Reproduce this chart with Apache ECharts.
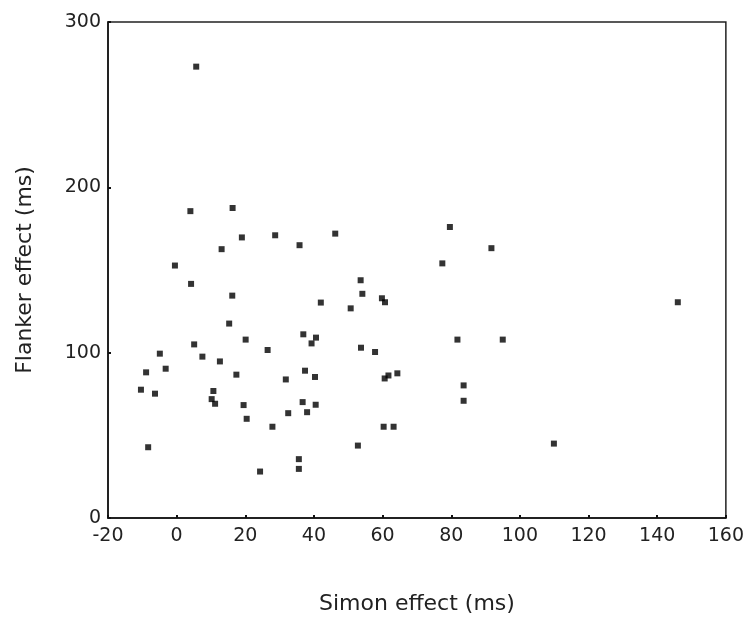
<!DOCTYPE html>
<html><head><meta charset="utf-8">
<script src="https://cdn.jsdelivr.net/npm/echarts@6/dist/echarts.min.js"></script>
<style>html,body{margin:0;padding:0;background:#fff}#c{width:747px;height:620px}</style>
</head><body><div id="c"></div>
<script>
const simonEffect = [5.7,4,16.3,19,28.7,13.1,35.8,46.2,-0.5,79.6,91.7,77.4,4.2,16.2,15.3,20.1,5.1,-4.9,7.5,12.6,-3.2,-8.9,17.4,-10.4,-6.3,10.7,10.2,11.2,19.5,20.4,-8.3,26.5,27.9,24.3,31.8,32.5,35.6,35.6,36.9,40.6,39.3,42,37.4,40.3,36.7,38,40.5,50.7,53.6,54.1,59.8,60.7,53.7,57.8,60.6,61.7,64.3,60.3,63.2,52.8,146,81.8,95,83.6,83.6,109.9];
const flankerEffect = [273,185.6,187.5,169.7,171,162.6,165,172,152.7,176,163.2,154,141.6,134.5,117.6,107.9,105,99.4,97.6,94.7,90.3,88.1,86.7,77.6,75.2,76.8,71.9,69.1,68.3,60,42.8,101.6,55.2,28.1,83.8,63.4,35.6,29.7,111.1,109.1,105.6,130.3,89.1,85.3,70.1,64,68.5,126.8,143.8,135.6,132.9,130.5,103,100.4,84.4,86.2,87.5,55.2,55.2,43.8,130.5,107.9,107.9,80.2,70.9,45];
const xTicks = [-20,0,20,40,60,80,100,120,140,160];
const yTicks = [0,100,200,300];
const points = simonEffect.map((x,i)=>[x, flankerEffect[i]]);
const chart = echarts.init(document.getElementById('c'));
const font = 'DejaVu Sans, sans-serif';
chart.setOption({
  animation:false,
  grid:{left:108,right:21,top:22,bottom:102,show:true,borderColor:'#222',borderWidth:1.5,containLabel:false},
  xAxis:{type:'value',min:xTicks[0],max:xTicks[xTicks.length-1],interval:20,
    name:'Simon effect (ms)',nameLocation:'middle',nameGap:75,
    nameTextStyle:{fontFamily:font,fontSize:22,color:'#222'},
    axisLine:{show:true,onZero:false,lineStyle:{color:'#111',width:1.5}},
    axisTick:{show:true,inside:true,length:3,lineStyle:{color:'#111',width:2}},
    axisLabel:{fontFamily:font,fontSize:19,color:'#222',margin:9},
    splitLine:{show:false}},
  yAxis:{type:'value',min:yTicks[0],max:yTicks[yTicks.length-1],interval:100,
    name:'Flanker effect (ms)',nameLocation:'middle',nameGap:72,
    nameTextStyle:{fontFamily:font,fontSize:22,color:'#222'},
    axisLine:{show:true,onZero:false,lineStyle:{color:'#111',width:1.5}},
    axisTick:{show:true,inside:true,length:3,lineStyle:{color:'#111',width:2}},
    axisLabel:{fontFamily:font,fontSize:19,color:'#222',margin:7},
    splitLine:{show:false}},
  series:[{type:'scatter',data:points,symbol:'rect',symbolSize:6,itemStyle:{color:'#000'}}]
});
</script></body></html>
